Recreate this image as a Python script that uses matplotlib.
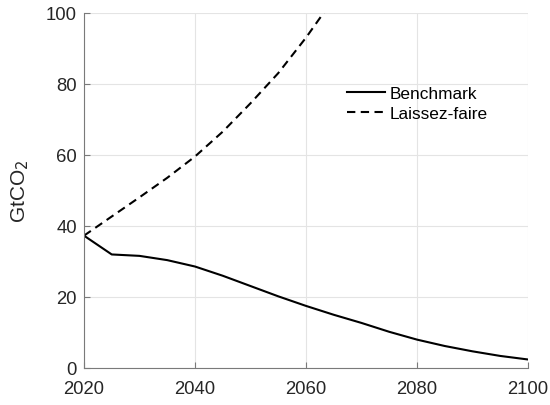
import matplotlib
matplotlib.use('Agg')
import matplotlib.pyplot as plt

plt.rcParams['font.family'] = ['Liberation Sans', 'DejaVu Sans']

years = [2020, 2025, 2030, 2035, 2040, 2045, 2050, 2055, 2060,
         2065, 2070, 2075, 2080, 2085, 2090, 2095, 2100]
benchmark = [37.2, 31.9, 31.5, 30.3, 28.5, 25.9, 23.0, 20.1, 17.4,
             14.9, 12.6, 10.1, 7.9, 6.1, 4.6, 3.3, 2.3]

lf_years = [2020, 2025, 2030, 2035, 2040, 2045, 2050, 2055, 2060, 2065]
laissez_faire = [37.2, 42.6, 48.0, 53.5, 59.5, 66.5, 74.5, 83.0, 93.0, 104.0]

txt = '#262626'

fig = plt.figure(figsize=(5.5, 4.06), dpi=100)
ax = fig.add_axes([0.1527, 0.092, 0.8073, 0.874])

ax.plot(years, benchmark, color='black', lw=1.5, label='Benchmark')
ax.plot(lf_years, laissez_faire, color='black', lw=1.5, ls=(0, (4, 2.6)),
        label='Laissez-faire')

ax.set_xlim(2020, 2100)
ax.set_ylim(0, 100)
ax.set_xticks([2020, 2040, 2060, 2080, 2100])
ax.set_yticks([0, 20, 40, 60, 80, 100])
ax.grid(True, color='#e4e4e4', lw=0.8)
ax.set_axisbelow(True)

for s in ['top', 'right']:
    ax.spines[s].set_visible(False)
for s in ['left', 'bottom']:
    ax.spines[s].set_color('#7a7a7a')
    ax.spines[s].set_linewidth(0.8)

ax.tick_params(direction='in', length=4, width=0.8, color='#7a7a7a',
               labelsize=13.3, labelcolor=txt)
ax.tick_params(axis='x', pad=9)
ax.tick_params(axis='y', pad=5)
ax.set_ylabel('GtCO$_2$', fontsize=15, color=txt, labelpad=11)

ax.legend(loc='upper left', bbox_to_anchor=(0.557, 0.837), frameon=False,
          fontsize=12.4, handlelength=2.2, handletextpad=0.3,
          labelspacing=0.25, labelcolor='black')

fig.savefig('out.png', dpi=100)
